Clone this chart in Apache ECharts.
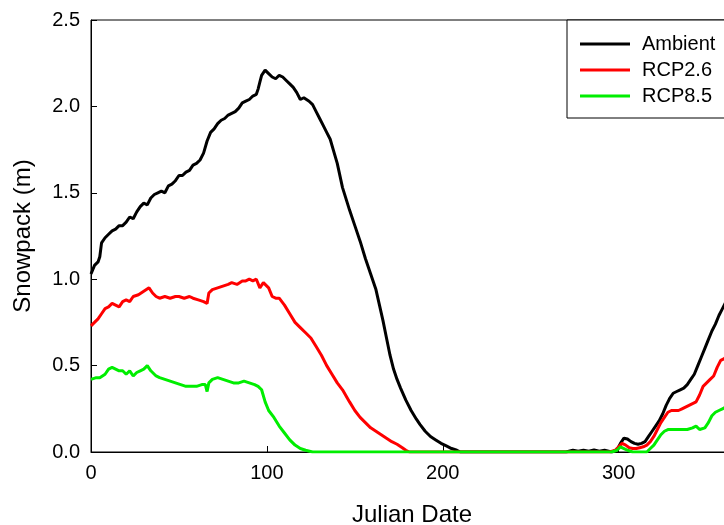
<!DOCTYPE html>
<html>
<head>
<meta charset="utf-8">
<script src="https://cdn.jsdelivr.net/npm/echarts@6/dist/echarts.min.js"></script>
<style>html,body{margin:0;padding:0;background:#fff}#c{width:724px;height:525px}</style>
</head>
<body>
<div id="c"></div>
<script>
const seriesNames = ['Ambient', 'RCP2.6', 'RCP8.5'];
const xTicks = [0, 100, 200, 300];
const yTicks = [0.0, 0.5, 1.0, 1.5, 2.0, 2.5];

const ambientDays = [0,2,4,5,6,8,10,12,14,16,18,20,22,24,26,28,30,32,34,36,38,40,42,44,46,48,50,52,54,56,58,60,62,64,66,68,70,72,74,76,78,80,82,84,86,88,90,92,94,95,96,97,99,101,103,105,107,109,111,113,115,117,119,121,122,124,126,128,130,132,134,136,138,140,143,147,150,153,156,159,162,164,166,168,170,172,174,176,179,182,185,187,190,193,196,199,202,205,208,210,270,274,277,280,283,286,289,292,296,299,301,303,305,307,309,311,313,315,317,319,321,323,325,327,329,331,333,335,337,339,341,343,345,347,349,351,353,355,357,359,361,363,365];
const ambientVals = [1.03,1.08,1.10,1.13,1.21,1.24,1.26,1.28,1.29,1.31,1.31,1.33,1.36,1.35,1.39,1.42,1.44,1.43,1.47,1.49,1.50,1.51,1.50,1.54,1.55,1.57,1.60,1.60,1.62,1.63,1.66,1.67,1.69,1.73,1.80,1.85,1.87,1.90,1.92,1.93,1.95,1.96,1.97,1.99,2.02,2.03,2.04,2.06,2.07,2.10,2.14,2.18,2.21,2.19,2.17,2.16,2.18,2.17,2.15,2.13,2.11,2.08,2.04,2.05,2.05,2.03,2.01,1.97,1.93,1.89,1.85,1.81,1.74,1.67,1.53,1.40,1.31,1.22,1.12,1.03,0.94,0.85,0.76,0.66,0.56,0.48,0.42,0.37,0.30,0.24,0.19,0.16,0.12,0.09,0.07,0.05,0.035,0.02,0.01,0,0,0.01,0.005,0.01,0.005,0.012,0.005,0.01,0,0.01,0.05,0.08,0.075,0.06,0.05,0.045,0.05,0.06,0.09,0.12,0.15,0.18,0.22,0.27,0.31,0.34,0.35,0.36,0.37,0.39,0.42,0.45,0.50,0.55,0.60,0.65,0.70,0.74,0.79,0.83,0.87,0.90,0.93,0.96];

const rcp26Days = [0,2,4,6,8,10,12,14,16,18,20,22,24,27,30,33,35,37,39,42,45,48,50,53,56,58,61,64,66,67,69,72,75,78,80,83,86,88,90,92,94,96,98,99,101,103,105,107,110,113,116,119,122,125,128,131,134,137,140,143,147,150,153,156,159,162,165,168,171,174,177,179,181,295,298,300,302,304,306,308,310,312,314,316,318,320,322,324,326,328,330,332,334,336,338,340,342,344,346,348,350,352,354,356,358,360,362,365];
const rcp26Vals = [0.73,0.75,0.77,0.80,0.83,0.84,0.86,0.85,0.84,0.87,0.88,0.87,0.90,0.91,0.93,0.95,0.92,0.90,0.89,0.90,0.89,0.90,0.90,0.89,0.90,0.89,0.88,0.87,0.86,0.92,0.94,0.95,0.96,0.97,0.98,0.97,0.99,0.99,1.00,0.99,1.00,0.95,0.98,0.99,0.95,0.90,0.89,0.89,0.85,0.80,0.75,0.72,0.69,0.66,0.61,0.56,0.50,0.45,0.40,0.36,0.29,0.24,0.20,0.17,0.14,0.12,0.10,0.08,0.06,0.045,0.025,0.01,0,0,0.01,0.03,0.05,0.04,0.025,0.02,0.02,0.025,0.03,0.04,0.06,0.09,0.13,0.17,0.20,0.23,0.24,0.24,0.24,0.25,0.26,0.27,0.28,0.29,0.33,0.38,0.40,0.42,0.44,0.49,0.53,0.54,0.56,0.58];

const rcp85Days = [0,3,5,8,10,12,14,16,18,20,22,24,26,28,30,32,34,37,39,42,45,48,51,54,57,60,63,65,66,67,69,72,75,78,81,84,87,90,93,95,97,99,101,104,107,110,113,116,119,122,126,296,299,301,303,305,308,312,316,318,320,322,324,326,328,330,333,336,339,342,344,346,347,349,351,353,355,357,359,361,363,365];
const rcp85Vals = [0.42,0.43,0.43,0.45,0.48,0.49,0.48,0.47,0.47,0.45,0.47,0.44,0.46,0.47,0.48,0.50,0.47,0.44,0.43,0.42,0.41,0.40,0.39,0.38,0.38,0.38,0.39,0.39,0.35,0.40,0.42,0.43,0.42,0.41,0.40,0.40,0.41,0.40,0.39,0.38,0.36,0.29,0.24,0.20,0.15,0.11,0.07,0.04,0.02,0.01,0,0,0.01,0.03,0.02,0.01,0,0,0,0.02,0.04,0.07,0.10,0.12,0.13,0.13,0.13,0.13,0.13,0.14,0.15,0.13,0.12,0.14,0.17,0.21,0.23,0.24,0.25,0.26,0.27,0.28];

function pairs(days, vals) { return days.map((d, i) => [d, vals[i]]); }

const FONT = "'Liberation Sans', Arial, sans-serif";
const chart = echarts.init(document.getElementById('c'), null, {renderer: 'canvas'});
chart.setOption({
  animation: false,
  backgroundColor: '#fff',
  textStyle: {fontFamily: FONT, color: '#000'},
  grid: {left: 91, right: -9, top: 20, bottom: 73, containLabel: false, outerBoundsMode: 'none',
    show: true, borderColor: '#000', borderWidth: 1, backgroundColor: 'transparent'},
  legend: {
    data: seriesNames,
    orient: 'vertical',
    left: 567, top: 20,
    icon: 'rect', itemWidth: 50, itemHeight: 3,
    itemGap: 6,
    padding: [14, 20, 12, 13],
    borderColor: '#000', borderWidth: 1,
    backgroundColor: '#fff',
    textStyle: {fontFamily: FONT, fontSize: 20, color: '#000', padding: [0, 0, 0, 7], lineHeight: 20}
  },
  xAxis: {
    type: 'value', min: 0, max: 365, interval: 100,
    name: 'Julian Date', nameLocation: 'middle', nameGap: 51,
    nameTextStyle: {fontFamily: FONT, fontSize: 24, color: '#000'},
    axisLine: {show: true, lineStyle: {color: '#000', width: 1}},
    axisTick: {show: true, inside: true, length: 6, lineStyle: {color: '#000'}},
    axisLabel: {fontFamily: FONT, fontSize: 20, color: '#000', margin: 11, showMaxLabel: false,
      formatter: v => xTicks.includes(v) ? String(v) : ''},
    splitLine: {show: false}
  },
  yAxis: {
    type: 'value', min: 0, max: 2.5, interval: 0.5,
    name: 'Snowpack (m)', nameLocation: 'middle', nameGap: 56,
    nameTextStyle: {fontFamily: FONT, fontSize: 24, color: '#000'},
    axisLine: {show: true, lineStyle: {color: '#000', width: 1}},
    axisTick: {show: true, inside: true, length: 6, lineStyle: {color: '#000'}},
    axisLabel: {fontFamily: FONT, fontSize: 20, color: '#000', margin: 11,
      formatter: v => yTicks.some(t => Math.abs(t - v) < 1e-9) ? v.toFixed(1) : ''},
    splitLine: {show: false}
  },
  series: [
    {name: seriesNames[0], type: 'line', data: pairs(ambientDays, ambientVals), showSymbol: false, symbol: 'none', lineStyle: {color: '#000', width: 3}, itemStyle: {color: '#000'}},
    {name: seriesNames[1], type: 'line', data: pairs(rcp26Days, rcp26Vals), showSymbol: false, symbol: 'none', lineStyle: {color: '#ff0000', width: 3}, itemStyle: {color: '#ff0000'}},
    {name: seriesNames[2], type: 'line', data: pairs(rcp85Days, rcp85Vals), showSymbol: false, symbol: 'none', lineStyle: {color: '#00ee00', width: 3}, itemStyle: {color: '#00ee00'}}
  ]
});
</script>
</body>
</html>
